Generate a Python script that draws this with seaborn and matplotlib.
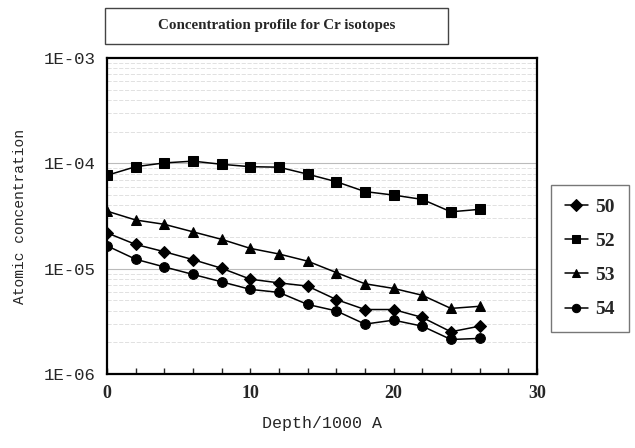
import pandas as pd
import matplotlib
matplotlib.use('Agg')
import matplotlib.pyplot as plt
import matplotlib.ticker as mticker
from matplotlib.patches import Rectangle
import seaborn as sns
import numpy as np

# Data
depth = [0, 2, 4, 6, 8, 10, 12, 14, 16, 18, 20, 22, 24, 26]
cr50 = [2.19e-5, 1.70e-5, 1.45e-5, 1.22e-5, 1.01e-5, 7.96e-6, 7.34e-6,
        6.84e-6, 5.1e-6, 4.1e-6, 4.1e-6, 3.45e-6, 2.52e-6, 2.85e-6]
cr52 = [7.7e-5, 9.3e-5, 1.01e-4, 1.05e-4, 9.8e-5, 9.3e-5, 9.2e-5,
        7.9e-5, 6.7e-5, 5.4e-5, 5.0e-5, 4.55e-5, 3.47e-5, 3.66e-5]
cr53 = [3.52e-5, 2.90e-5, 2.64e-5, 2.24e-5, 1.90e-5, 1.56e-5, 1.38e-5,
        1.18e-5, 9.2e-6, 7.2e-6, 6.5e-6, 5.6e-6, 4.2e-6, 4.4e-6]
cr54 = [1.65e-5, 1.23e-5, 1.04e-5, 8.83e-6, 7.51e-6, 6.37e-6, 5.96e-6,
        4.58e-6, 3.98e-6, 2.98e-6, 3.25e-6, 2.85e-6, 2.13e-6, 2.18e-6]
isotopes = ['50', '52', '53', '54']
y_ticks = [1e-6, 1e-5, 1e-4, 1e-3]
y_tick_labels = ['1E-06', '1E-05', '1E-04', '1E-03']

df = pd.concat([
    pd.DataFrame({'depth': depth, 'conc': vals, 'isotope': name})
    for name, vals in zip(isotopes, [cr50, cr52, cr53, cr54])
])

sns.set_style('white')

fig = plt.figure(figsize=(6.35, 4.48), dpi=100)
ax = fig.add_axes([0.1685, 0.165, 0.677, 0.7055])

sns.lineplot(data=df, x='depth', y='conc', hue='isotope', style='isotope',
             palette={k: 'black' for k in isotopes},
             markers={'50': 'D', '52': 's', '53': '^', '54': 'o'},
             dashes=False, markersize=7, linewidth=1.1,
             markeredgecolor='black', ax=ax, legend=True)
# diamonds are a bit smaller in the original
ax.lines[0].set_markersize(6)

ax.set_yscale('log')
ax.set_ylim(1e-6, 1e-3)
ax.set_xlim(0, 30)

# faint gridlines at every minor step
for dec in [1e-6, 1e-5, 1e-4]:
    for m in range(2, 10):
        ax.axhline(dec * m, color='#dcdcdc', lw=0.6, ls=(0, (5, 2)), zorder=0)
    if dec > 1e-6:
        ax.axhline(dec, color='#bbbbbb', lw=0.8, zorder=0)

ax.yaxis.set_major_locator(mticker.FixedLocator(y_ticks))
ax.yaxis.set_major_formatter(mticker.FixedFormatter(y_tick_labels))
ax.yaxis.set_minor_locator(mticker.NullLocator())
ax.xaxis.set_major_locator(mticker.MultipleLocator(10))
ax.xaxis.set_minor_locator(mticker.MultipleLocator(2))
ax.tick_params(axis='x', which='both', direction='in', length=4, width=1,
               bottom=True, pad=8)
ax.tick_params(axis='y', which='both', length=0, pad=8)

for lab in ax.get_xticklabels():
    lab.set_fontfamily('Liberation Serif')
    lab.set_fontweight('bold')
    lab.set_fontsize(13)
for lab in ax.get_yticklabels():
    lab.set_fontfamily('Liberation Mono')
    lab.set_fontsize(12.5)

ax.set_xlabel('Depth/1000 A', family='Liberation Mono', fontsize=12, labelpad=10)
ax.set_ylabel('Atomic concentration', family='Liberation Mono', fontsize=10.5, labelpad=12)

for side in ['left', 'bottom', 'top', 'right']:
    ax.spines[side].set_visible(True)
    ax.spines[side].set_color('black')
    ax.spines[side].set_linewidth(1.6)

leg = ax.legend(loc='upper left', bbox_to_anchor=(1.01, 0.63), frameon=True,
                fancybox=False, edgecolor='#555555', handlelength=1.2,
                handletextpad=0.4, labelspacing=0.85, borderpad=0.7,
                borderaxespad=0.5,
                prop={'family': 'Liberation Serif', 'weight': 'bold', 'size': 14})
leg.get_frame().set_linewidth(1.0)
for h in leg.legend_handles:
    h.set_markersize(6)

# title box
fig.patches.append(Rectangle((0.165, 0.902), 0.541, 0.080, transform=fig.transFigure,
                             fill=True, fc='white', ec='#444444', lw=1.0))
fig.text(0.435, 0.942, 'Concentration profile for Cr isotopes',
         ha='center', va='center', family='Liberation Serif',
         fontweight='bold', fontsize=10.8)

fig.savefig('out.png', dpi=100)
